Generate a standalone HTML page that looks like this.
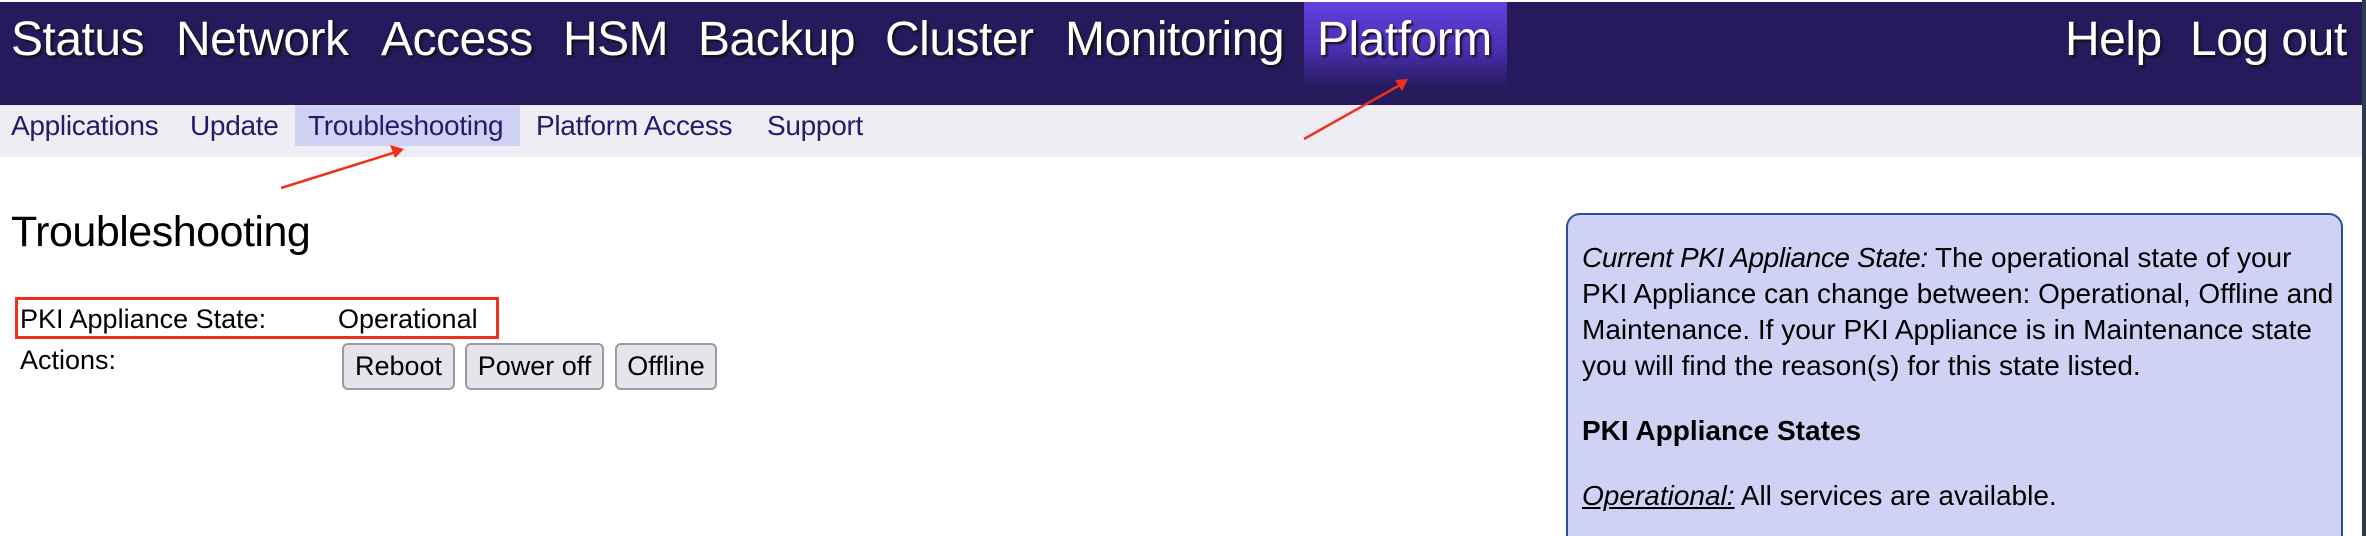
<!DOCTYPE html>
<html><head><meta charset="utf-8"><style>
*{margin:0;padding:0;box-sizing:border-box}
html,body{width:2366px;height:536px;overflow:hidden}
body{background:#fff;font-family:"Liberation Sans",Arial,sans-serif;position:relative}
.a{position:absolute;white-space:nowrap;line-height:1}
#nav{position:absolute;left:0;top:2px;width:2362px;height:103px;background:#261a5c}
#plat{position:absolute;left:1304px;top:2px;width:203px;height:86px;background:linear-gradient(#6340de,#4a2fb0 55%,#261a5c)}
.n{font-size:48px;color:#fff;top:16px;text-shadow:2px 2px 2px #111;letter-spacing:-0.5px}
#sub{position:absolute;left:0;top:105px;width:2362px;height:52px;background:#ededf3}
#tsh{position:absolute;left:295px;top:105px;width:225px;height:41px;background:#d0d2f5}
.s{font-size:28px;color:#261a6a;top:112px;letter-spacing:-0.3px}
.t{color:#000}
.btn{position:absolute;top:343px;height:47px;background:#e4e4ea;border:2px solid #9a9aa6;border-radius:6px;font-size:27px;text-align:center;line-height:43px}
#info{position:absolute;left:1566px;top:213px;width:777px;height:323px;background:#d0d2f5;border:2px solid #2a4f9a;border-bottom:none;border-radius:14px 14px 0 0}
#it{position:absolute;left:1582px;top:240px;white-space:nowrap;font-size:28px;line-height:36px;color:#000}
#it i:first-child{letter-spacing:-0.4px}
</style></head><body>
<div id="nav"></div><div id="plat"></div>
<div class="a n" style="left:11px">Status</div>
<div class="a n" style="left:176px">Network</div>
<div class="a n" style="left:381px">Access</div>
<div class="a n" style="left:563px">HSM</div>
<div class="a n" style="left:698px">Backup</div>
<div class="a n" style="left:885px">Cluster</div>
<div class="a n" style="left:1065px">Monitoring</div>
<div class="a n" style="left:1317px">Platform</div>
<div class="a n" style="left:2065px">Help</div>
<div class="a n" style="left:2190px">Log out</div>
<div style="position:absolute;left:2362px;top:0;width:4px;height:536px;background:#2a3d48"></div>
<div id="sub"></div><div id="tsh"></div>
<div class="a s" style="left:11px">Applications</div>
<div class="a s" style="left:190px">Update</div>
<div class="a s" style="left:308px">Troubleshooting</div>
<div class="a s" style="left:536px">Platform Access</div>
<div class="a s" style="left:767px">Support</div>
<div class="a t" style="left:11px;top:211px;font-size:43px;letter-spacing:-0.5px">Troubleshooting</div>
<div style="position:absolute;left:15px;top:297px;width:484px;height:42px;border:3px solid #f0301c"></div>
<div class="a t" style="left:20px;top:306px;font-size:27px">PKI Appliance State:</div>
<div class="a t" style="left:338px;top:306px;font-size:27px">Operational</div>
<div class="a t" style="left:20px;top:347px;font-size:27px">Actions:</div>
<div class="btn" style="left:342px;width:113px">Reboot</div>
<div class="btn" style="left:465px;width:139px">Power off</div>
<div class="btn" style="left:615px;width:102px">Offline</div>
<svg style="position:absolute;left:0;top:0" width="2366" height="536">
<g stroke="#f0301c" stroke-width="2.5" fill="none">
<line x1="281" y1="188" x2="396" y2="152"/>
<line x1="1304" y1="139" x2="1402" y2="84"/>
</g>
<path d="M404,149 L390,145 L395,158 Z" fill="#f0301c"/>
<path d="M1408,79 L1395,80 L1402,91 Z" fill="#f0301c"/>
</svg>
<div id="info"></div>
<div id="it"><i>Current PKI Appliance State:</i> The operational state of your<br>PKI Appliance can change between: Operational, Offline and<br>Maintenance. If your PKI Appliance is in Maintenance state<br>you will find the reason(s) for this state listed.<div style="height:29px"></div><b>PKI Appliance States</b><div style="height:29px"></div><i><u>Operational:</u></i> All services are available.</div>
</body></html>
